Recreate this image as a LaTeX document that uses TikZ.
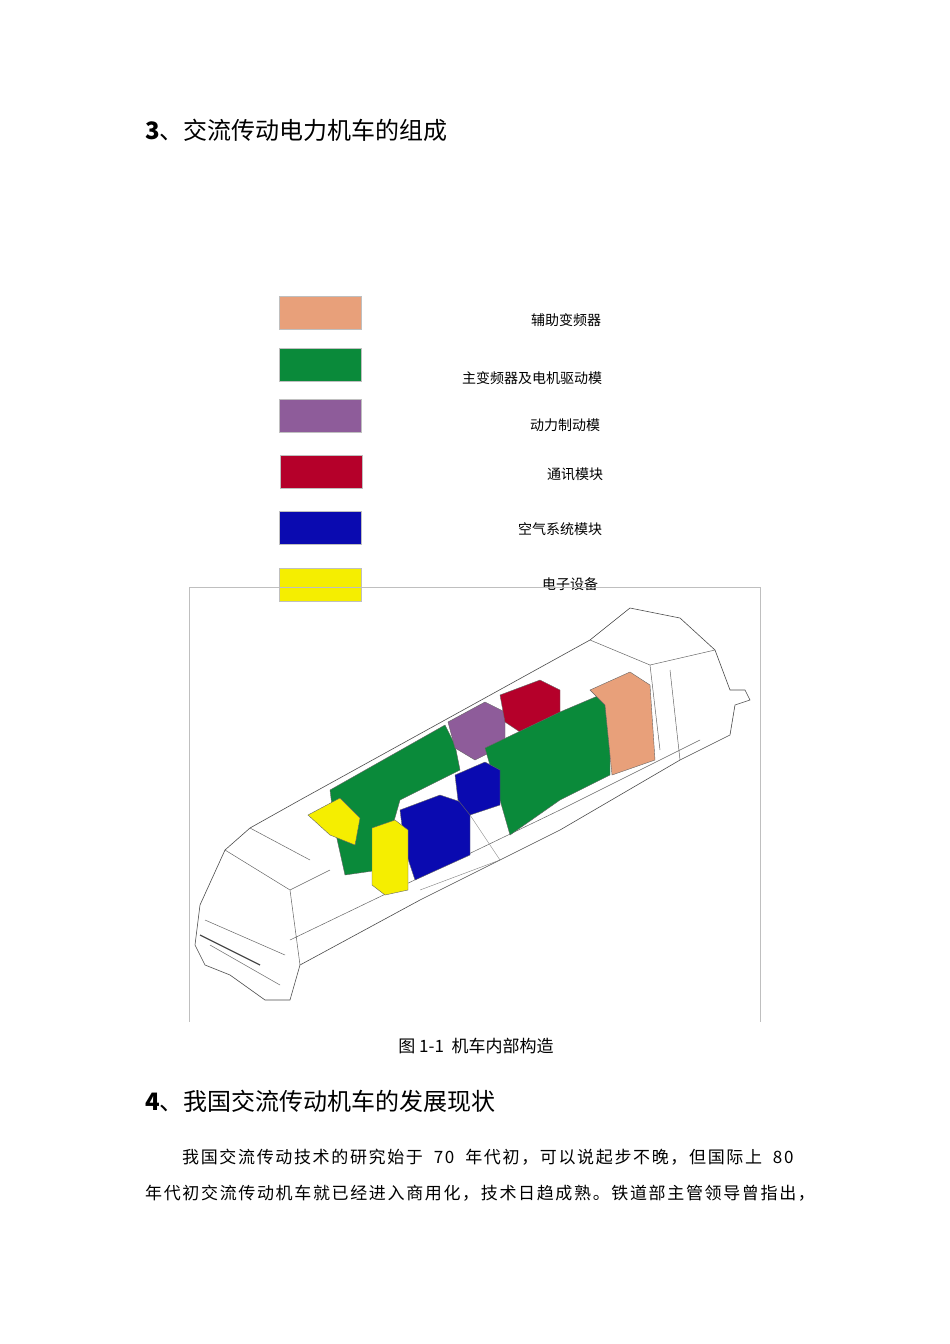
\documentclass[tikz,border=0pt]{standalone}
\usepackage{fontspec}
\setmainfont{Liberation Serif}
\newfontfamily\cjk{Noto Sans CJK SC}
\newfontfamily\cjkwide{Noto Sans CJK SC}[LetterSpace=9.7]
\begin{document}
\begin{tikzpicture}[x=1pt,y=-1pt,
  legbox/.style={minimum width=82pt,minimum height=33pt,inner sep=0pt,draw=black!25,line width=0.4pt},
  leglab/.style={font=\cjk\fontsize{14}{16}\selectfont,inner sep=0pt},
  head/.style={font=\cjk\fontsize{24}{28}\selectfont,anchor=west,inner sep=0pt},
  body/.style={font=\cjkwide\fontsize{17}{20}\selectfont,anchor=west,inner sep=0pt},
  ol/.style={draw=black!70,line width=0.6pt,fill=white},
  blk/.style={draw=black!60,line width=0.4pt}]
\useasboundingbox (0,0) rectangle (950,1344);
\definecolor{cor}{HTML}{E8A07A}\definecolor{cgr}{HTML}{0A8A3A}
\definecolor{cpu}{HTML}{8E5C9A}\definecolor{cre}{HTML}{B5002A}
\definecolor{cbl}{HTML}{0A0AB0}\definecolor{cye}{HTML}{F5EE00}
\node[head] (t3) at (145,130) {\textbf{3}、交流传动电力机车的组成};
\node[legbox,fill=cor] (b1) at (320,313) {};
\node[legbox,fill=cgr] (b2) at (320,365) {};
\node[legbox,fill=cpu] (b3) at (320,416) {};
\node[legbox,fill=cre] (b4) at (321,472) {};
\node[legbox,fill=cbl] (b5) at (320,528) {};
\node[legbox,fill=cye] (b6) at (320,585) {};
\node[leglab] (l1) at (566,320) {辅助变频器};
\node[leglab] (l2) at (532,378) {主变频器及电机驱动模};
\node[leglab] (l3) at (565,425) {动力制动模};
\node[leglab] (l4) at (575,474) {通讯模块};
\node[leglab] (l5) at (560,529) {空气系统模块};
\node[leglab] (l6) at (570,584) {电子设备};
\draw[black!25,line width=0.4pt] (189,587) -- (760,587) (189,587) -- (189,1022) (760,587) -- (760,1022);
% locomotive outline
\draw[ol] (195,945) -- (200,905) -- (225,850) -- (250,828) -- (300,800) -- (590,640) -- (630,608) -- (680,618) -- (715,650) -- (730,690) -- (745,690) -- (750,700) -- (735,705) -- (730,735) -- (680,760) -- (560,830) -- (420,900) -- (300,965) -- (290,1000) -- (265,1000) -- (230,975) -- (205,965) -- cycle;
\draw[black!60,line width=0.5pt] (225,850) -- (290,890) -- (300,965) (290,890) -- (330,870) (250,828) -- (310,860)
 (590,640) -- (650,665) -- (715,650) (650,665) -- (660,750) (680,760) -- (670,670)
 (205,920) -- (285,955) (210,945) -- (280,985) (290,940) -- (560,810) -- (700,740);
\draw[black!70,line width=1.2pt] (200,935) -- (260,965);
% modules
\fill[cgr,blk] (330,790) -- (445,725) -- (455,745) -- (460,770) -- (400,800) -- (380,870) -- (345,875) -- (335,830) -- cycle;
\fill[cpu,blk] (448,722) -- (485,702) -- (505,712) -- (505,745) -- (475,760) -- (455,748) -- cycle;
\fill[cre,blk] (500,695) -- (540,680) -- (560,690) -- (560,715) -- (520,732) -- (505,722) -- cycle;
\fill[cgr,blk] (485,748) -- (560,712) -- (600,695) -- (610,712) -- (610,775) -- (560,800) -- (510,835) -- (500,800) -- cycle;
\fill[cor,blk] (590,690) -- (630,672) -- (650,685) -- (655,760) -- (612,775) -- (605,705) -- cycle;
\fill[cbl,blk] (400,810) -- (440,795) -- (470,805) -- (470,855) -- (415,880) -- (405,850) -- cycle;
\fill[cbl,blk] (455,775) -- (485,762) -- (500,770) -- (500,805) -- (470,815) -- (458,800) -- cycle;
\draw[black!50] (470,815) -- (500,860) -- (420,890);
\fill[cye,blk] (308,815) -- (340,798) -- (360,818) -- (355,845) -- (330,835) -- cycle;
\fill[cye,blk] (372,828) -- (395,820) -- (408,830) -- (408,890) -- (385,895) -- (372,885) -- cycle;
\node[font=\cjk\fontsize{17}{20}\selectfont,inner sep=0pt] (cap) at (476,1046) {图 1-1\ \ 机车内部构造};
\node[head] (t4) at (145,1101) {\textbf{4}、我国交流传动机车的发展现状};
\node[body] (p1) at (182,1157) {我国交流传动技术的研究始于\ \ 70\ \ 年代初，可以说起步不晚，但国际上\ \ 80};
\node[body] (p2) at (145,1193) {年代初交流传动机车就已经进入商用化，技术日趋成熟。铁道部主管领导曾指出，};
\end{tikzpicture}
\end{document}
